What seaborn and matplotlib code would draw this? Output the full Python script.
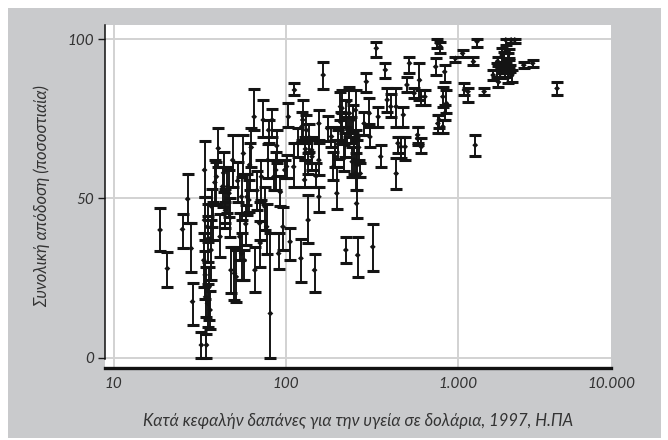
import numpy as np
import pandas as pd
import matplotlib
matplotlib.use('Agg')
import matplotlib.pyplot as plt
import seaborn as sns
from matplotlib.patches import Rectangle
from matplotlib.ticker import NullLocator, FixedLocator

# health expenditure per capita (US$, 1997) and overall attainment with uncertainty bounds
spend = [18.6, 20.5, 25.1, 26.9, 28.2, 28.7, 33.7, 32.3, 34.6, 33.7, 35.1, 35.9, 34.2, 36.8, 35.1, 37.7,
         33.4, 40.5, 39.5, 42.9, 44.6, 44.2, 46.8, 49.1, 45.7, 50.3, 51.5, 48.0, 56.7, 55.3, 59.5, 61.0,
         54.0, 55.3, 57.3, 65.5, 66.1, 73.9, 72.1, 75.6, 70.4, 79.4, 83.3, 77.4, 81.3, 87.4, 85.3, 90.8,
         96.2, 98.6, 105.9, 103.4, 112.2, 111.1, 125.4, 122.4, 131.6, 134.7, 134.7, 141.3, 128.5, 146.8,
         155.6, 155.6, 155.6, 164.9, 184.2, 188.7, 197.9, 193.3, 207.7, 212.6, 223.2, 234.2, 223.2, 249.2,
         254.2, 257.7, 261.6, 245.6, 270.6, 293.6, 305.1, 320.0, 335.6, 344.1, 355.8, 378.5, 388.1, 407.0,
         437.7, 448.1, 481.6, 493.2, 505.5, 522.7, 556.2, 583.5, 597.8, 612.4, 642.7, 742.5, 760.4, 790.7,
         817.2, 837.5, 837.5, 817.2, 857.6, 778.4, 966.3, 1064, 1091, 1144, 1230, 1260, 1291, 1420,
         1602, 1680, 1763, 1805, 1896, 1849, 1941, 1989, 1941, 2038, 2138, 1805, 1896, 2412, 2718, 3767,
         124, 130, 142, 212, 208, 222, 232, 238, 254, 260, 243, 308, 437, 610, 466, 583, 764,
         61.6, 38.7, 35.5, 34.0, 36.3, 1720, 2050, 1990,
         37.0, 41.5, 43.5, 47.5, 52.5, 58.5, 63.0, 68.0, 71.0, 78.5, 88.5, 93.0, 101, 118, 137, 150,
         175, 201, 217, 228, 265, 285, 1870, 2010, 1700]
attain = [40.1, 28.0, 40.3, 49.8, 34.3, 17.6, 58.9, 4.0, 4.0, 43.2, 41.1, 22.3, 19.1, 33.8, 17.1, 43.2,
          30.6, 65.7, 56.8, 53.7, 46.3, 45.3, 51.6, 62.0, 53.7, 26.5, 25.4, 27.5, 64.1, 50.5, 50.5, 49.5,
          38.0, 32.7, 30.6, 75.6, 27.5, 74.6, 56.8, 47.4, 42.2, 71.4, 74.6, 41.1, 13.9, 58.9, 56.8, 32.7,
          41.1, 58.9, 36.4, 75.6, 84.0, 59.9, 74.6, 31.2, 71.4, 61.0, 43.2, 65.2, 55.8, 27.5,
          73.5, 62.0, 50.5, 88.7, 69.4, 59.9, 51.6, 63.1, 78.8, 71.4, 76.7, 76.7, 33.8, 62.0,
          57.8, 48.4, 32.2, 74.6, 57.8, 86.6, 76.7, 34.8, 97.1, 75.6, 63.1, 90.3, 80.9, 78.8,
          57.8, 67.3, 76.2, 66.2, 85.6, 92.4, 83.0, 68.8, 87.1, 66.2, 81.9, 91.3, 98.6, 97.6,
          81.9, 89.7, 76.7, 72.5, 79.8, 74.6, 93.9, 95.5, 84.0, 83.5, 92.9, 66.7, 99.2, 83.5,
          88.7, 90.3, 89.2, 95.0, 99.7, 93.9, 93.4, 92.9, 87.7, 99.7, 99.7, 90.3, 91.3, 91.8, 92.4, 84.5,
          72.5, 65.5, 63.1, 78.3, 74.0, 66.7, 80.3, 71.4, 77.7, 60.5, 61.5, 69.3, 78.8, 81.9, 66.2, 69.9, 73.5,
          60.5, 55.0, 37.5, 26.0, 15.0, 86.5, 88.5, 95.5,
          47.5, 38.0, 58.0, 44.0, 55.5, 42.0, 66.0, 52.5, 36.0, 62.0, 66.5, 52.0, 60.0, 67.5, 69.0, 57.0,
          72.0, 67.0, 62.5, 71.5, 66.0, 73.5, 89.5, 90.8, 93.0]
lower = [33.6, 22.1, 34.3, 42.2, 27.0, 10.3, 50.5, 0.0, 0.0, 36.9, 36.4, 11.8, 12.9, 24.4, 9.7, 36.9,
         22.3, 59.9, 48.4, 47.4, 40.6, 42.2, 44.2, 53.7, 45.3, 18.1, 17.6, 20.2, 57.8, 43.2, 44.8, 45.8,
         30.6, 24.4, 24.4, 71.4, 20.7, 69.4, 49.5, 40.1, 36.9, 67.3, 69.4, 32.7, 0.0, 52.6, 52.6, 28.0,
         33.8, 56.3, 30.6, 72.5, 82.4, 53.7, 67.3, 23.8, 67.3, 57.8, 36.0, 61.0, 53.7, 20.7,
         68.3, 57.3, 45.8, 84.2, 66.2, 55.8, 46.8, 59.9, 74.6, 67.3, 72.5, 69.4, 29.6, 57.8,
         52.6, 43.7, 25.4, 70.4, 56.8, 83.5, 73.5, 27.3, 94.5, 72.5, 59.9, 87.7, 77.2, 75.6,
         53.1, 64.1, 72.5, 62.0, 83.5, 89.2, 81.4, 66.7, 80.9, 64.1, 79.3, 88.7, 97.1, 95.5,
         78.8, 86.6, 74.6, 70.4, 76.7, 72.0, 92.9, 94.5, 82.4, 80.3, 91.8, 63.3, 97.6, 82.4,
         87.1, 88.2, 87.7, 92.9, 98.1, 91.8, 91.3, 91.3, 86.1, 98.6, 98.6, 89.2, 89.7, 90.8, 91.3, 82.4,
         68.3, 62.0, 58.9, 72.5, 68.3, 63.0, 75.6, 67.3, 71.4, 52.6, 56.8, 66.2, 72.4, 79.3, 62.6, 67.3, 70.5,
         52.6, 48.0, 30.0, 18.5, 9.0, 85.0, 86.6, 94.0,
         41.0, 31.5, 52.0, 38.0, 49.0, 35.5, 60.0, 46.5, 28.5, 56.5, 61.0, 47.5, 56.5, 63.0, 64.5, 53.5,
         68.0, 62.5, 58.5, 67.5, 62.0, 70.0, 88.0, 89.5, 91.5]
upper = [46.9, 33.1, 45.1, 57.6, 42.2, 23.6, 68.1, 8.2, 7.6, 50.5, 48.4, 28.6, 28.6, 43.2, 23.3, 49.0,
         39.0, 72.0, 61.5, 59.9, 53.1, 49.0, 58.9, 69.9, 59.9, 34.8, 33.8, 34.8, 69.9, 56.8, 57.8, 55.8,
         45.3, 39.0, 33.8, 84.3, 34.8, 80.9, 62.0, 53.7, 49.0, 74.6, 78.2, 48.4, 39.0, 64.6, 62.0, 39.0,
         47.4, 62.0, 40.6, 79.8, 86.1, 67.3, 80.9, 37.4, 76.2, 64.1, 51.0, 69.4, 62.0, 32.7,
         77.7, 67.3, 53.7, 92.9, 72.5, 64.6, 59.9, 68.3, 83.5, 76.7, 80.9, 84.0, 38.0, 69.4,
         64.1, 56.8, 38.0, 79.3, 61.0, 89.2, 81.4, 41.9, 99.2, 78.8, 66.7, 92.4, 84.5, 82.9,
         62.6, 69.4, 78.8, 69.4, 88.2, 94.5, 84.5, 72.5, 92.4, 68.8, 84.0, 93.9, 100.0, 99.2,
         85.0, 91.8, 79.3, 74.6, 84.0, 76.2, 94.5, 96.5, 86.1, 84.5, 94.5, 69.9, 100.0, 84.5,
         90.3, 92.4, 90.3, 97.1, 100.0, 96.0, 95.5, 93.4, 89.2, 100.0, 100.0, 91.3, 92.4, 92.9, 93.4, 86.6,
         77.2, 69.3, 68.3, 84.0, 77.2, 70.5, 85.0, 75.6, 84.0, 68.3, 66.2, 72.5, 84.6, 84.0, 69.3, 72.5, 76.2,
         67.3, 62.0, 44.5, 33.5, 21.0, 88.0, 90.3, 97.0,
         53.0, 45.0, 64.5, 50.0, 61.5, 48.0, 72.0, 58.5, 43.0, 67.0, 71.5, 57.0, 63.5, 72.0, 73.5, 61.0,
         76.0, 71.5, 67.0, 75.5, 70.0, 77.0, 91.0, 92.0, 94.5]

xticks = [10, 100, 1000]
xtick_labels = ['10', '100', '1.000']
last_xtick_label = '10.000'
yticks = [0, 50, 100]
xlabel = 'Κατά κεφαλήν δαπάνες για την υγεία σε δολάρια, 1997, Η.ΠΑ'
ylabel = 'Συνολική απόδοση (ποσοστιαία)'

df = pd.DataFrame({'spend': spend, 'attain': attain, 'lower': lower, 'upper': upper})

sns.set_style('white')
plt.rcParams['font.family'] = ['Lato', 'DejaVu Sans']
tick_font = dict(family=['Lato', 'DejaVu Sans'], style='italic', weight='normal', color='#333333', size=11)
label_font = dict(tick_font, size=12)

fig = plt.figure(figsize=(6.68, 4.40), dpi=100, facecolor='white')
fig.patches.append(Rectangle((8 / 668, 2 / 440), 653 / 668, 430 / 440, transform=fig.transFigure,
                             facecolor='#c9cacc', edgecolor='none', zorder=-10))
ax = fig.add_axes([105 / 668, 72 / 440, 506 / 668, 343 / 440])
ax.set_facecolor('white')

ax.errorbar(df['spend'], df['attain'],
            yerr=[df['attain'] - df['lower'], df['upper'] - df['attain']],
            fmt='none', ecolor='#141414', elinewidth=1.4, capsize=4.0, capthick=2.2, zorder=3)
sns.scatterplot(data=df, x='spend', y='attain', ax=ax, marker='D', s=9, color='#141414',
                edgecolor='none', zorder=4, legend=False)

ax.set_xscale('log')
ax.set_xlim(8.9, 7750)
ax.set_ylim(-3.2, 104.4)

ax.xaxis.set_major_locator(FixedLocator(xticks))
ax.xaxis.set_minor_locator(NullLocator())
ax.set_xticklabels(xtick_labels, fontdict=tick_font)
ax.set_yticks(yticks)
ax.set_yticklabels([str(v) for v in yticks], fontdict=tick_font)
for lab in ax.get_xticklabels():
    lab.set_verticalalignment('center')
ax.text(1.0, -0.047, last_xtick_label, transform=ax.transAxes, ha='center', va='center', **tick_font)

ax.grid(True, color='#d2d2d2', linewidth=1.4, zorder=0)
ax.set_axisbelow(True)

ax.tick_params(axis='x', length=0, pad=11.5)
ax.tick_params(axis='y', length=5, width=1.0, color='#1c1c1c', direction='out', pad=3, left=True)

for side in ['top', 'right']:
    ax.spines[side].set_visible(False)
ax.spines['bottom'].set_linewidth(2.4)
ax.spines['bottom'].set_color('#111111')
ax.spines['left'].set_linewidth(1.1)
ax.spines['left'].set_color('#111111')
ax.spines['left'].set_bounds(-0.4, 104.4)

ax.set_xlabel(xlabel, fontdict=label_font)
ax.set_ylabel(ylabel, fontdict=label_font)
ax.xaxis.set_label_coords(0.5, -0.13)
ax.yaxis.set_label_coords(-0.108, 0.5)

fig.savefig('out.png', dpi=100, facecolor=fig.get_facecolor())
